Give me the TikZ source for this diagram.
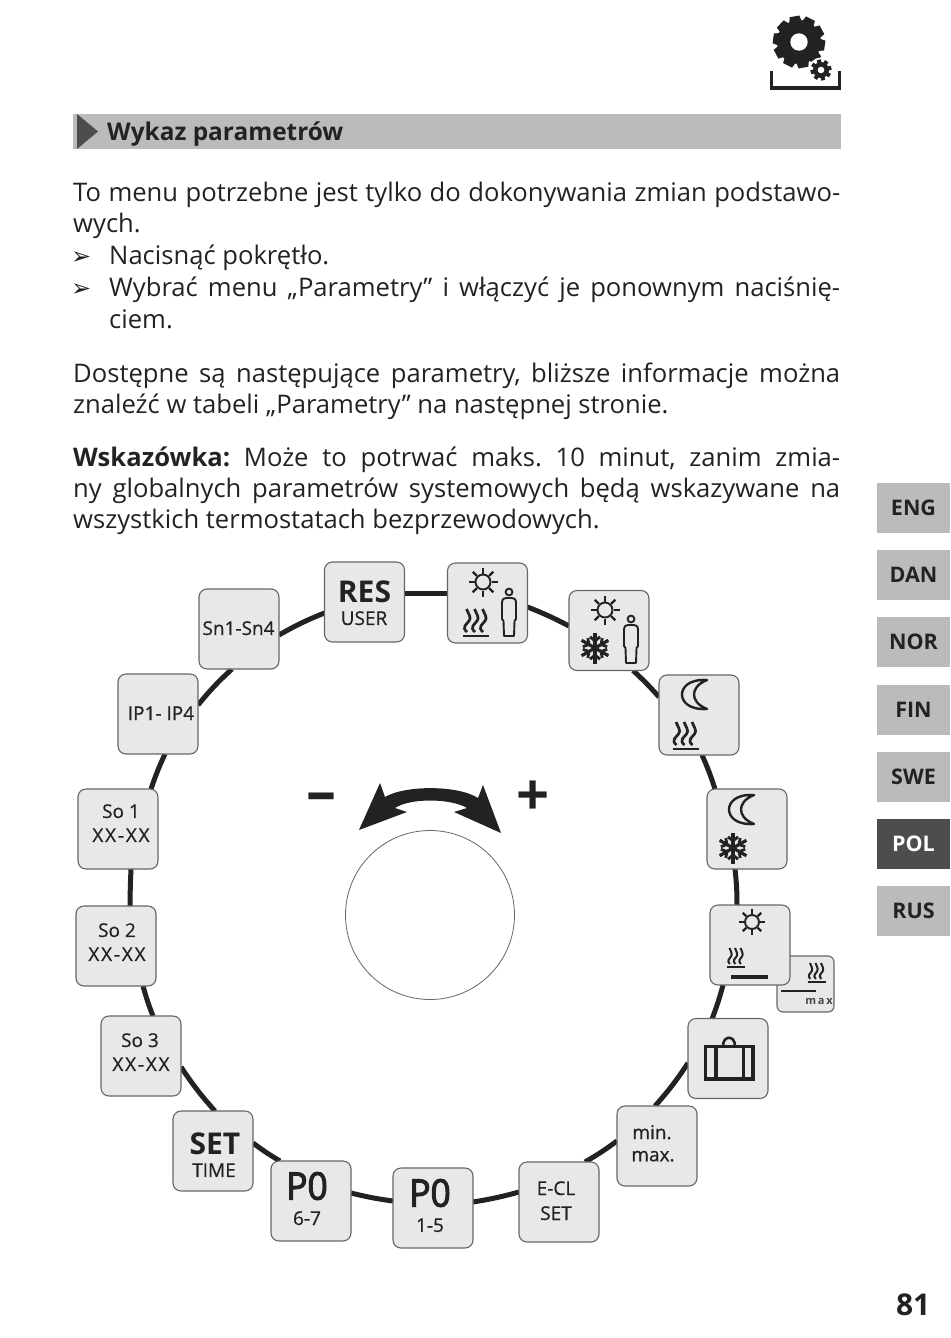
\documentclass[tikz,border=0pt]{standalone}
\usepackage{fontspec}
\setmainfont{Open Sans}
\newfontfamily\dingfont{DejaVu Sans}
\newfontfamily\labfont[RawFeature={embolden=0.6}]{Open Sans}
\newfontfamily\pofont[RawFeature={embolden=3}]{Open Sans}
\usetikzlibrary{calc}
\pgfdeclarelayer{bg}
\pgfsetlayers{bg,main}
\definecolor{ink}{HTML}{222222}
\definecolor{boxfill}{HTML}{E8E8E8}
\definecolor{boxline}{HTML}{666666}
\definecolor{band}{HTML}{BBBBBB}
\definecolor{dark}{HTML}{4D4D4D}
\newcommand{\fs}[1]{\fontsize{#1}{#1}\selectfont}
\newcommand{\fullline}[1]{\hbox to 767pt{#1}}
\newcommand{\xxxx}{X\kern1.8ptX\kern1.8pt-\kern1.8ptX\kern1.8ptX}
\newcommand{\ringseg}[7]{\draw[ring] ($(#1)+(#2,#3)$) to[bend left=#7] ($(#4)+(#5,#6)$);}
\frenchspacing
\tikzset{
  pbox/.style={draw=boxline,fill=boxfill,line width=1.1pt,rounded corners=8pt,minimum width=80pt,minimum height=80pt,inner sep=0pt},
  ring/.style={draw=ink,line width=5pt},
  bodyline/.style={anchor=base west,inner sep=0pt,text=ink,font=\fs{25.6}},
  lab/.style={inner sep=0pt,text=ink,yshift=-.2pt,font=\fs{19}\labfont},
  labbig/.style={inner sep=0pt,text=ink,yshift=-.4pt,font=\fs{30}\bfseries},
  labpo/.style={inner sep=0pt,text=ink,yshift=-1pt,font=\fs{38}\pofont,xscale=.93},
  tab/.style={fill=band,minimum width=73pt,minimum height=50pt,inner sep=0pt,text=ink,font=\fs{21.5}\bfseries},
  icon/.style={draw=ink,line width=1.9pt},
  sunicon/.pic={
    \draw[icon] (0,0) circle (7.5);
    \foreach \a in {0,45,...,315}{\draw[icon,line width=2.2pt] (\a:8.5) -- (\a:14.5);}
  },
  sunsmall/.pic={
    \draw[icon] (0,0) circle (7);
    \foreach \a in {0,45,...,315}{\draw[icon,line width=2.2pt] (\a:8) -- (\a:13);}
  },
  heaticon/.pic={
    \draw[icon,line width=2.8pt] (-13,0) -- (13,0);
    \foreach \x in {-8,0,8}{
      \draw[icon,line width=2.7pt] (\x-1,-4) .. controls (\x-7,-9) and (\x-1,-12) .. (\x+1,-15)
        .. controls (\x+4,-18) and (\x,-23) .. (\x-1.5,-27);
    }
  },
  heatsmall/.pic={
    \draw[icon,line width=2.4pt] (-9,0) -- (9,0);
    \foreach \x in {-5.5,0,5.5}{
      \draw[icon,line width=2pt] (\x-.7,-3) .. controls (\x-4.2,-6.5) and (\x-.7,-8.6) .. (\x+.7,-10.8)
        .. controls (\x+2.1,-13) and (\x,-16.5) .. (\x-1,-19);
    }
  },
  personicon/.pic={
    \draw[icon] (0,-44) circle (3.4);
    \draw[icon,line join=round] (-5,0) -- (-5.5,-15) -- (-7,-17) -- (-7,-33)
      .. controls (-7,-37) and (-5,-38) .. (-3,-38) -- (3,-38)
      .. controls (5,-38) and (7,-37) .. (7,-33) -- (7,-17) -- (5.5,-15) -- (5,0) -- cycle;
  },
  snowicon/.pic={
    \foreach \a in {30,90,...,330}{
      \draw[icon,line width=3.2pt] (0,0) -- (\a:15.5);
      \draw[icon,line width=2.8pt] (\a:7) -- ++(\a+50:6.5);
      \draw[icon,line width=2.8pt] (\a:7) -- ++(\a-50:6.5);
    }
  },
  moonicon/.pic={
    \draw[icon,line width=2.4pt,line join=round] (25,0) .. controls (6,-1) and (0,8) .. (0,14.5)
      .. controls (0,21) and (6,30) .. (25,29)
      .. controls (15,25) and (12,19) .. (12,14.5)
      .. controls (12,10) and (15,4) .. (25,0) -- cycle;
  },
}
\begin{document}
\begin{tikzpicture}[x=1pt,y=-1pt]
\useasboundingbox (0,0) rectangle (950,1338);
% gear icon
\fill[ink] (799,42) circle (22);
\foreach \a in {0,36,...,324}{\fill[ink,rotate around={\a+10:(799,42)}] (794,16) -- (804,16) -- (806,26) -- (792,26) -- cycle;}
\fill[white] (799,42) circle (8.7);
\fill[white] (821,70) circle (12.5);
\fill[ink] (821,70) circle (8);
\foreach \a in {0,45,...,315}{\fill[ink,rotate around={\a+12:(821,70)}] (819,59.5) rectangle (823,65);}
\fill[white] (821,70) circle (3.3);
\draw[ink,line width=3.8pt] (771.5,71) -- (771.5,88) -- (839.5,88) -- (839.5,71);
% heading
\node[fill=band,minimum width=768pt,minimum height=35pt,inner sep=0pt] (bar) at (457,131.5) {};
\fill[dark] (77,114) -- (98,131.5) -- (77,149) -- cycle;
\node[anchor=base west,inner sep=0pt,text=ink,font=\fs{24.4}\bfseries] (title) at (107,140) {Wykaz parametrów};
% text
\node[bodyline] (l1) at (73,201) {\fullline{To menu potrzebne jest tylko do dokonywania zmian podstawo-}};
\node[bodyline] (l2) at (73,232) {wych.};
\node[bodyline,font=\fs{24}\dingfont] (b1) at (71,264) {➢};
\node[bodyline] (l3) at (109,264) {Nacisnąć pokrętło.};
\node[bodyline,font=\fs{24}\dingfont] (b2) at (71,296) {➢};
\node[bodyline] (l4) at (109,296) {\hbox to 731pt{Wybrać menu „Parametry” i włączyć je ponownym naciśnię-}};
\node[bodyline] (l5) at (109,328) {ciem.};
\node[bodyline] (l6) at (73,382) {\fullline{Dostępne są następujące parametry, bliższe informacje można}};
\node[bodyline] (l7) at (73,413) {znaleźć w tabeli „Parametry” na następnej stronie.};
\node[bodyline] (l8) at (73,466) {\fullline{\textbf{Wskazówka:} Może to potrwać maks. 10 minut, zanim zmia-}};
\node[bodyline] (l9) at (73,497) {\fullline{ny globalnych parametrów systemowych będą wskazywane na}};
\node[bodyline] (l10) at (73,528) {wszystkich termostatach bezprzewodowych.};
% tabs
\node[tab] (eng) at (913.5,508) {\raisebox{-1pt}{ENG}};
\node[tab] (dan) at (913.5,575) {\raisebox{-1pt}{DAN}};
\node[tab] (nor) at (913.5,642) {\raisebox{-1pt}{NOR}};
\node[tab] (fin) at (913.5,709.5) {\raisebox{-1pt}{FIN}};
\node[tab] (swe) at (913.5,776.5) {\raisebox{-1pt}{SWE}};
\node[tab,fill=dark,text=white] (pol) at (913.5,844) {\raisebox{-1pt}{POL}};
\node[tab] (rus) at (913.5,911) {\raisebox{-1pt}{RUS}};
\node[anchor=base east,inner sep=0pt,text=ink,font=\fs{30}\bfseries] (page) at (930.5,1315) {81};
% boxes
\node[pbox] (res) at (364.5,602) {};
\node[pbox] (sh) at (487.5,603) {};
\node[pbox] (ss) at (609,630.5) {};
\node[pbox] (mh) at (699,715) {};
\node[pbox] (ms) at (747,829) {};
\node[pbox,minimum width=57pt,minimum height=56pt,rounded corners=6pt] (mx) at (805.5,984) {};
\node[pbox] (sl) at (750,945) {};
\node[pbox] (suit) at (728,1058.5) {};
\node[pbox] (mm) at (657,1146) {};
\node[pbox] (ecl) at (559,1202) {};
\node[pbox] (pa) at (433,1208) {};
\node[pbox] (pb) at (311,1201) {};
\node[pbox] (st) at (213,1151) {};
\node[pbox] (so3) at (141,1056) {};
\node[pbox] (so2) at (116,946) {};
\node[pbox] (so1) at (118,829) {};
\node[pbox] (ip) at (158,714) {};
\node[pbox] (sn) at (239,629) {};
% ring
\begin{pgfonlayer}{bg}
\ringseg{res}{40}{-9}{sh}{-40}{-10}{0}
\ringseg{sh}{40}{4}{ss}{-40}{-4.5}{3}
\ringseg{ss}{24}{40}{mh}{-40}{-18}{3}
\ringseg{mh}{3}{40}{ms}{-32}{-40}{3}
\ringseg{ms}{-12}{40}{sl}{-13}{-40}{3}
\ringseg{sl}{-27}{40}{suit}{-16}{-39.5}{3}
\ringseg{suit}{-40}{4.5}{mm}{-2}{-40}{4}
\ringseg{mm}{-40}{-5}{ecl}{26}{-40}{3}
\ringseg{ecl}{-40}{-10}{pa}{40}{-6}{3}
\ringseg{pa}{-40}{-7}{pb}{40}{-8}{3}
\ringseg{pb}{-31}{-40}{st}{40}{-8}{3}
\ringseg{st}{2}{-40}{so3}{40}{11}{4}
\ringseg{so3}{12}{-40}{so2}{27}{40}{3}
\ringseg{so2}{14}{-40}{so1}{13}{40}{1}
\ringseg{so1}{33}{-40}{ip}{7}{40}{3}
\ringseg{ip}{40}{-9}{sn}{-7}{40}{4}
\ringseg{sn}{40}{6}{res}{-40}{11}{4}
\end{pgfonlayer}
% labels
\node[labbig] (t1) at (364.5,591) {RES};
\node[lab] (t2) at (364,618) {USER};
\node[labbig] (t3) at (215,1143) {SET};
\node[lab] (t4) at (214,1170) {TIME};
\node[labpo] (t5) at (307,1185) {P0};
\node[lab] (t6) at (307,1218) {6-7};
\node[labpo] (t7) at (430,1192) {P0};
\node[lab] (t8) at (430,1225) {1-5};
\node[lab] (t9) at (556,1188) {E-CL};
\node[lab] (t10) at (556,1213) {SET};
\node[lab] (t11) at (652,1132) {min.};
\node[lab] (t12) at (653,1156) {max.};
\node[lab] (t13) at (121,811) {So 1};
\node[lab] (t14) at (121,835) {\xxxx};
\node[lab] (t15) at (117,930) {So 2};
\node[lab] (t16) at (117,954) {\xxxx};
\node[lab] (t17) at (140,1040) {So 3};
\node[lab] (t18) at (141,1064) {\xxxx};
\node[lab] (t19) at (238.5,628) {Sn1-Sn4};
\node[lab] (t20) at (161,713) {IP1- IP4};
\node[inner sep=0pt,text=boxline!70!black,font=\fs{11}\bfseries] (t21) at (819,1001) {m\,a\,x};
% icons
\pic at (483,582) {sunicon};
\pic at (476,636) {heaticon};
\pic at (509,636) {personicon};
\pic at (605,610) {sunicon};
\pic at (595,648) {snowicon};
\pic at (631,663) {personicon};
\pic at (682,680) {moonicon};
\pic at (685.5,749) {heaticon};
\pic at (729,795) {moonicon};
\pic at (733,848) {snowicon};
\pic at (752,922) {sunsmall};
\pic at (736,967) {heatsmall};
\draw[ink,line width=4pt] (731,977) -- (768,977);
\pic at (816.5,982) {heatsmall};
\draw[ink,line width=2.4pt] (781,991) -- (816,991);
% suitcase
\draw[ink,line width=3.6pt] (705.5,1046.5) rectangle (753,1079);
\draw[ink,line width=3.6pt] (716,1046.5) -- (716,1079) (743.5,1046.5) -- (743.5,1079);
\draw[ink,line width=2.6pt] (723,1046) .. controls (723,1035) and (735,1035) .. (735,1046);
% knob and arrow
\node[circle,draw=boxline,line width=.8pt,minimum size=169pt,inner sep=0pt] (knob) at (430,915) {};
\fill[ink] (359,830) -- (380,783) -- (385,797) .. controls (405,785) and (458,785) .. (478,798)
  -- (483,785) -- (501,833) -- (454,812) -- (467,808) .. controls (450,798) and (410,798) .. (395,808)
  -- (407,812) -- cycle;
\node[inner sep=0pt,text=ink,font=\fs{60}\bfseries] (minus) at (321.5,802.5) {–};
\node[inner sep=0pt,text=ink,font=\fs{58}\bfseries] (plus) at (533.5,798) {+};
\end{tikzpicture}
\end{document}
